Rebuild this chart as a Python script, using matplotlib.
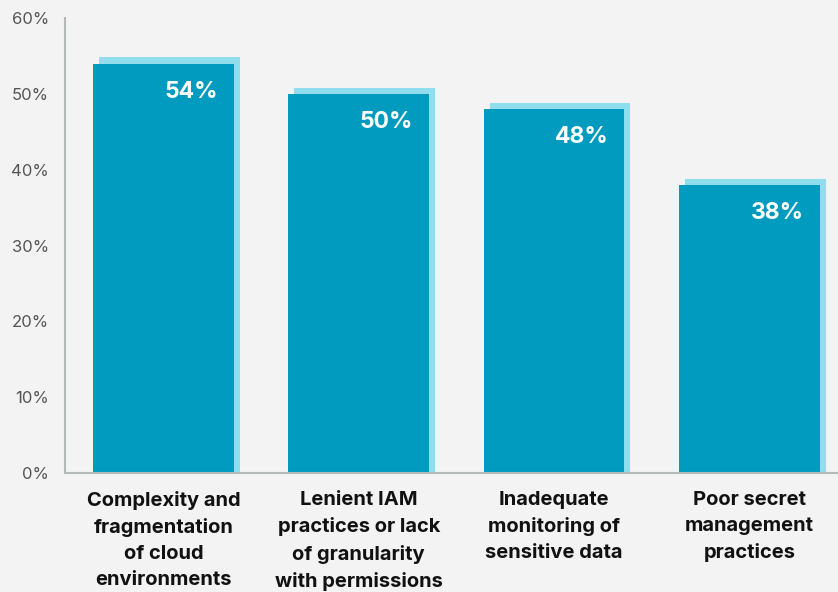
import numpy as np
import matplotlib.pyplot as plt

categories = [
    "Complexity and\nfragmentation\nof cloud\nenvironments",
    "Lenient IAM\npractices or lack\nof granularity\nwith permissions",
    "Inadequate\nmonitoring of\nsensitive data",
    "Poor secret\nmanagement\npractices",
]
values = [54, 50, 48, 38]
y_ticks = [0, 10, 20, 30, 40, 50, 60]
y_tick_labels = ["0%", "10%", "20%", "30%", "40%", "50%", "60%"]

BG = "#f2f3f2"
MAIN = "#019bbf"
SHADOW = "#8fdded"
SPINE = "#b4b8b8"

plt.rcParams["font.family"] = ["Inter", "DejaVu Sans"]

fig = plt.figure(figsize=(8.38, 5.92), dpi=100, facecolor=BG)
ax = fig.add_axes([65 / 838, 119 / 592, 773 / 838, 455 / 592])
ax.set_facecolor(BG)

x = np.arange(len(values))
width = 0.72

# light offset "shadow" behind each bar
ax.bar(x + 0.031, np.array(values) + 0.8, width=width, color=SHADOW, zorder=1)
ax.bar(x, values, width=width, color=MAIN, zorder=2)

for xi, v in zip(x, values):
    ax.annotate(f"{v}%", xy=(xi + width / 2, v), xytext=(-16, -28),
                textcoords="offset pixels", ha="right", va="center",
                color="white", fontsize=16.5, fontweight="bold", zorder=3)

ax.set_xlim(-0.504, 3.454)
ax.set_ylim(0, 60)
ax.set_yticks(y_ticks)
ax.set_yticklabels(y_tick_labels)
ax.set_xticks(x)
ax.set_xticklabels(categories, fontsize=14.5, fontweight="bold", color="#111111",
                   linespacing=1.55)
ax.tick_params(axis="y", length=0, pad=11.5, labelsize=12, labelcolor="#555555")
ax.tick_params(axis="x", length=0, pad=13)

for side in ["top", "right"]:
    ax.spines[side].set_visible(False)
for side in ["left", "bottom"]:
    ax.spines[side].set_color(SPINE)
    ax.spines[side].set_linewidth(1.5)

fig.savefig("out.png", dpi=100, facecolor=BG)
